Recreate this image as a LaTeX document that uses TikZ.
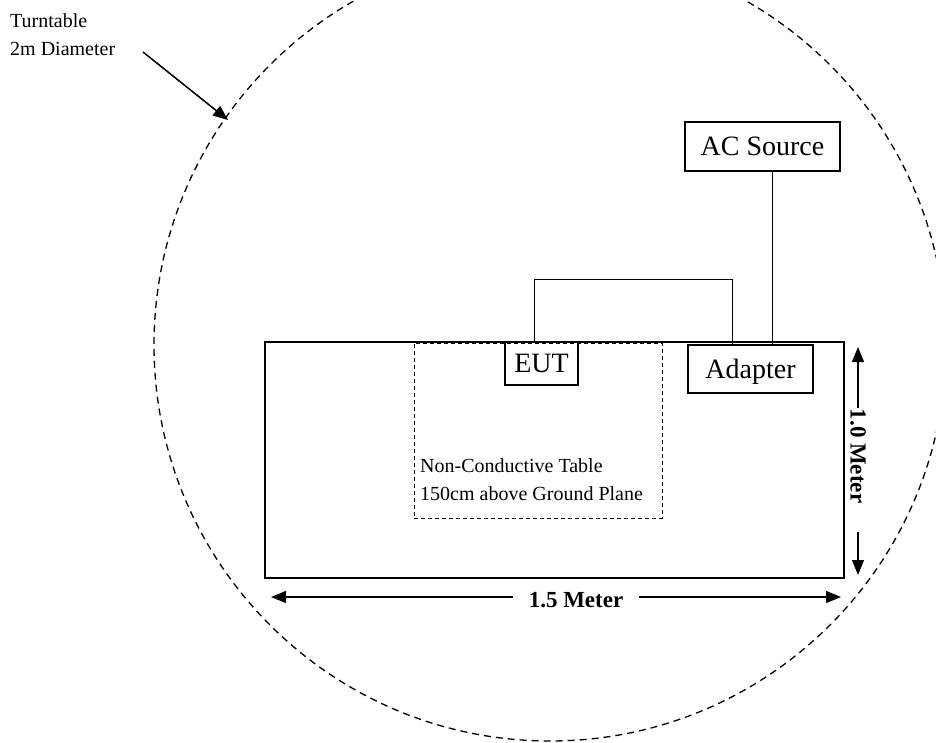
\documentclass[tikz,border=0pt]{standalone}
\usepackage{fontspec}
\setmainfont{Liberation Serif}
\usetikzlibrary{arrows.meta}
\begin{document}
\begin{tikzpicture}[x=1pt,y=-1pt,
  box/.style={draw, line width=1.3pt, inner sep=0pt, text depth=0pt, font=\fontsize{28}{32}\selectfont},
  small/.style={font=\fontsize{20}{28}\selectfont},
  dimlab/.style={font=\bfseries\fontsize{23}{26}\selectfont, inner ysep=0pt},
  dimarrow/.style={line width=1.3pt, -{Triangle[length=15pt,width=12pt]}},
  wire/.style={line width=1pt},
  turnline/.style={dash pattern=on 7pt off 5pt, line width=1.3pt},
  tabled/.style={draw, dash pattern=on 4pt off 3pt, line width=1pt, inner sep=0pt}]
\useasboundingbox (0,0) rectangle (936,743);
% turntable
\draw[turnline] (550,345) circle [radius=396pt];
% main table
\node[draw, line width=2pt, minimum width=579pt, minimum height=236pt, inner sep=0pt] (table) at (554.5,460) {};
\node[tabled, minimum width=248pt, minimum height=175pt] (nct) at (538,430.5) {};
\node[small, anchor=north west, align=left, inner sep=0pt] (nctlab) at (420,458) {Non-Conductive Table\\150cm above Ground Plane};
% boxes
\node[box, minimum width=73pt, minimum height=43pt] (eut) at (541.5,363.5) {EUT};
\node[box, line width=2pt, minimum width=125pt, minimum height=48pt] (adapter) at (750.5,369) {Adapter};
\node[box, minimum width=155pt, minimum height=49pt] (ac) at (762.5,146.5) {AC Source};
% wires
\draw[wire] ([xshift=-7.5pt]eut.north) -- ++(0,-62) -| ([xshift=-18.5pt]adapter.north);
\draw[wire] ([xshift=9.5pt]ac.south) -- ([xshift=9.5pt]ac.south |- adapter.north);
% horizontal dimension
\coordinate (hl) at (271,597);
\coordinate (hr) at (841,597);
\node[dimlab, inner xsep=16pt] (hlab) at (576,600) {1.5 Meter};
\draw[dimarrow] (hlab.west |- hl) -- (hl);
\draw[dimarrow] (hlab.east |- hr) -- (hr);
% vertical dimension
\node[dimlab, rotate=-90] (vlab) at (858,456) {1.0 Meter};
\coordinate (vt0) at (858,408);
\coordinate (vt) at (858,347);
\coordinate (vb0) at (858,532);
\coordinate (vb) at (858,575);
\draw[dimarrow] (vt0) -- (vt);
\draw[dimarrow] (vb0) -- (vb);
% turntable label
\node[small, anchor=north west, align=left, inner sep=0pt] (ttlab) at (10,13) {Turntable\\2m Diameter};
\coordinate (tta) at (143,52);
\coordinate (ttb) at (228,120);
\draw[line width=1.5pt, -{Triangle[length=15pt,width=12pt]}] (tta) -- (ttb);
\end{tikzpicture}
\end{document}
